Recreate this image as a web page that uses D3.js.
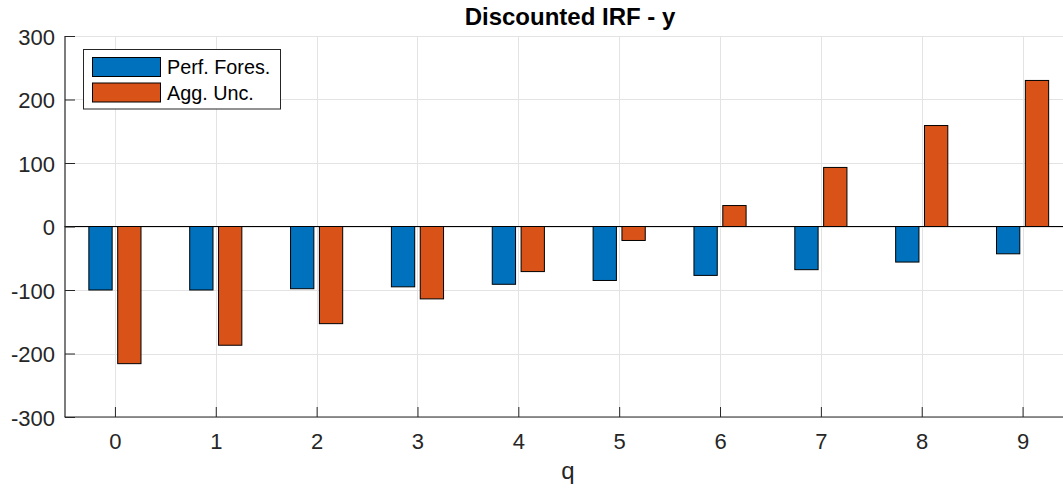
<!DOCTYPE html>
<html>
<head>
<meta charset="utf-8">
<script src="https://cdn.jsdelivr.net/npm/d3@7"></script>
<style>
  html, body { margin: 0; padding: 0; background: #fff; }
  svg { display: block; font-family: "Liberation Sans", Arial, Helvetica, sans-serif; }
</style>
</head>
<body>
<svg id="chart" width="1063" height="489"></svg>
<script>
const categories = [0, 1, 2, 3, 4, 5, 6, 7, 8, 9];
const perfFores = [-100, -100, -98, -95, -91, -85, -77, -68, -56, -43];
const aggUnc = [-216, -187, -153, -114, -71, -22, 33, 93, 159, 230];
const seriesNames = ["Perf. Fores.", "Agg. Unc."];
const seriesColors = ["#0072BD", "#D95319"];
const yTicks = [-300, -200, -100, 0, 100, 200, 300];
const titleText = "Discounted IRF - y";
const xLabelText = "q";

const svg = d3.select("#chart");
const W = 1063, H = 489;
const pLeft = 64.5, pRight = 1073, pTop = 36, pBottom = 417;

const x = d3.scaleLinear().domain([-0.5, 9.5]).range([pLeft, pRight]);
const y = d3.scaleLinear().domain([-300, 300]).range([pBottom, pTop]);

const axisColor = "#262626";
const gridColor = "#e3e3e3";

svg.append("defs").append("clipPath").attr("id", "clip")
  .append("rect").attr("x", pLeft).attr("y", pTop - 1).attr("width", pRight - pLeft).attr("height", pBottom - pTop + 2);

// grid
const grid = svg.append("g");
grid.selectAll("line.gx").data(categories).enter().append("line")
  .attr("x1", d => Math.round(x(d)) + 0.5).attr("x2", d => Math.round(x(d)) + 0.5)
  .attr("y1", pTop).attr("y2", pBottom)
  .attr("stroke", gridColor).attr("stroke-width", 1);
grid.selectAll("line.gy").data(yTicks).enter().append("line")
  .attr("x1", pLeft).attr("x2", W)
  .attr("y1", d => Math.round(y(d)) + 0.5).attr("y2", d => Math.round(y(d)) + 0.5)
  .attr("stroke", gridColor).attr("stroke-width", 1);

// bars
const series = [perfFores, aggUnc];
const offsets = [-0.143, 0.143];
const bw = 0.231;
const barsG = svg.append("g").attr("clip-path", "url(#clip)");
series.forEach((vals, si) => {
  barsG.selectAll("rect.s" + si).data(categories).enter().append("rect")
    .attr("x", (d, i) => x(d + offsets[si] - bw / 2))
    .attr("width", x(bw) - x(0))
    .attr("y", (d, i) => y(Math.max(0, vals[i])))
    .attr("height", (d, i) => Math.abs(y(vals[i]) - y(0)))
    .attr("fill", seriesColors[si])
    .attr("stroke", "#000").attr("stroke-width", 1);
});

// zero baseline
svg.append("line")
  .attr("x1", pLeft).attr("x2", W)
  .attr("y1", y(0)).attr("y2", y(0))
  .attr("stroke", "#000").attr("stroke-width", 1);

// axes (MATLAB-style, inward ticks)
const yAxis = d3.axisLeft(y).tickValues(yTicks).tickFormat(d => String(d)).tickSize(-10).tickPadding(10);
const gy = svg.append("g").attr("transform", `translate(${pLeft + 0.5},0)`).call(yAxis);
const xAxis = d3.axisBottom(x).tickValues(categories).tickFormat(d => String(d)).tickSize(-10).tickPadding(-26);
const gx = svg.append("g").attr("transform", `translate(0,${pBottom})`).call(xAxis);

[gx, gy].forEach(g => {
  g.select(".domain").attr("stroke", axisColor).attr("stroke-width", 1.2);
  g.selectAll(".tick line").attr("stroke", axisColor);
  g.selectAll(".tick text").attr("fill", axisColor)
    .style("font-size", "22px").style("font-family", '"Liberation Sans", Arial, sans-serif');
});
gy.select(".domain").attr("d", `M0,${pBottom}V${pTop}`);
gx.select(".domain").attr("d", `M${pLeft},0H${W}`);
gy.selectAll(".tick text").attr("dy", null).attr("y", 8).attr("x", -10);
gx.selectAll(".tick text").attr("dy", null).attr("y", 32);

// title
svg.append("text").attr("x", 570).attr("y", 25).attr("text-anchor", "middle")
  .attr("fill", "#000").style("font-weight", "bold").style("font-size", "24px")
  .text(titleText);

// x label
svg.append("text").attr("x", 568).attr("y", 479).attr("text-anchor", "middle")
  .attr("fill", axisColor).style("font-size", "24px").text(xLabelText);

// legend
const lg = svg.append("g");
lg.append("rect").attr("x", 83.5).attr("y", 49.5).attr("width", 197).attr("height", 59.5)
  .attr("fill", "#fff").attr("stroke", axisColor).attr("stroke-width", 1);
seriesNames.forEach((name, i) => {
  const yy = 57.5 + i * 25.5;
  lg.append("rect").attr("x", 92.5).attr("y", yy).attr("width", 68).attr("height", 19)
    .attr("fill", seriesColors[i]).attr("stroke", "#000").attr("stroke-width", 1);
  lg.append("text").attr("x", 167).attr("y", yy + 16.5)
    .attr("fill", "#000").style("font-size", "19.8px").text(name);
});
</script>
</body>
</html>
